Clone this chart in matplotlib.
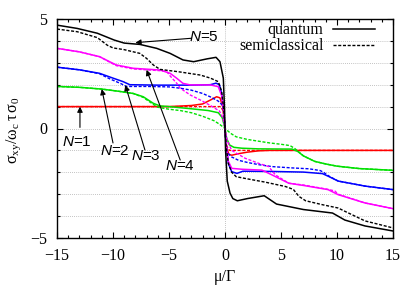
import numpy as np
import matplotlib
matplotlib.use("Agg")
import matplotlib.pyplot as plt
from matplotlib.ticker import MultipleLocator

plt.rcParams['font.family'] = ['Liberation Serif', 'DejaVu Serif']
plt.rcParams['mathtext.fontset'] = 'custom'
plt.rcParams['mathtext.it'] = 'Liberation Sans:italic'
plt.rcParams['mathtext.rm'] = 'Liberation Serif'

# N=1 (red)
mu_q1 = [-15, -5, -3, -2, -1.3, -0.75, -0.45, -0.2, 0, 0.15, 0.35, 0.6, 1.2, 2, 3, 4, 15]
s_q1 = [1.0, 1.0, 1.05, 1.12, 1.3, 1.45, 1.4, 1.0, 0, -0.9, -1.18, -1.22, -1.15, -1.08, -1.02, -1.0, -1.0]
mu_c1 = [-15, -0.4, -0.15, 0, 0.15, 0.4, 15]
s_c1 = [1.0, 1.0, 0.8, 0, -0.8, -1.0, -1.0]

# N=2 (green)
mu_q2 = [-15, -13, -11, -9.5, -8.2, -7.3, -6.4, -5.8, -5, -3, -1.5, -0.6, -0.25, 0,
         0.15, 0.4, 0.8, 1.5, 3, 6, 6.5, 7, 8, 9, 10, 12, 15]
s_q2 = [1.92, 1.88, 1.8, 1.7, 1.6, 1.45, 1.15, 1.03, 1.0, 0.9, 0.82, 0.72, 0.5, 0,
        -0.45, -0.75, -0.86, -0.9, -0.93, -0.94, -1.05, -1.25, -1.5, -1.62, -1.72, -1.83, -1.91]
mu_c2 = [-15, -13, -11, -9.5, -8.2, -7.3, -6.4, -6, -5, -4, -3, -2, -1, -0.5, 0,
         0.5, 1, 2, 3, 4, 5, 5.8, 6.2, 7, 8, 9, 10, 12, 15]
s_c2 = [1.92, 1.88, 1.8, 1.7, 1.6, 1.42, 1.1, 0.97, 0.88, 0.82, 0.72, 0.56, 0.36, 0.2, 0,
        -0.22, -0.38, -0.5, -0.58, -0.66, -0.72, -0.78, -0.9, -1.25, -1.5, -1.62, -1.72, -1.83, -1.91]

# N=3 (blue)
mu_q3 = [-15, -13, -11.2, -10, -9.1, -8.5, -6, -3, -1.3, -0.8, -0.5, -0.3, -0.12, 0,
         0.12, 0.3, 0.6, 1.07, 1.6, 4, 7, 8.7, 9.3, 10.1, 12.5, 15]
s_q3 = [2.8, 2.68, 2.52, 2.3, 2.14, 2.0, 1.98, 1.98, 2.0, 2.07, 2.0, 1.6, 0.8, 0,
        -0.8, -1.6, -1.97, -2.05, -1.95, -1.96, -1.99, -2.06, -2.2, -2.4, -2.63, -2.79]
mu_c3 = [-15, -13, -11.2, -10.3, -9.3, -8.8, -7, -5, -4, -3, -2, -1.2, -0.6, -0.2, -0.05, 0,
         0.05, 0.2, 0.6, 1.2, 2, 3, 4.2, 6, 7.5, 8.5, 8.8, 9.3, 10.1, 12.5, 15]
s_c3 = [2.8, 2.68, 2.5, 2.27, 2.05, 1.92, 1.92, 1.9, 1.84, 1.75, 1.6, 1.42, 1.25, 1.05, 0.5, 0,
        -0.5, -1.1, -1.3, -1.45, -1.55, -1.65, -1.74, -1.8, -1.84, -1.92, -2.0, -2.18, -2.4, -2.63, -2.79]

# N=4 (magenta)
mu_q4 = [-15, -13, -11.2, -10.3, -9.7, -8.2, -5.8, -4.9, -4.3, -3.75, -3.1, -1.3, -0.6, -0.3, -0.1, 0,
         0.1, 0.3, 0.6, 1.5, 3.3, 4.2, 5.7, 7, 9.2, 10.1, 12.5, 15]
s_q4 = [3.66, 3.5, 3.28, 3.05, 2.9, 2.75, 2.67, 2.52, 2.29, 2.06, 1.99, 1.99, 1.91, 1.5, 0.7, 0,
        -0.7, -1.5, -1.82, -1.86, -1.9, -2.12, -2.5, -2.6, -2.79, -3.02, -3.4, -3.66]
mu_c4 = [-15, -13, -11.2, -10.3, -9.7, -8.2, -5.8, -5.2, -4.9, -4.3, -4, -3.1, -2.2, -1.3, -0.5, -0.2, 0,
         0.2, 0.6, 1.8, 3, 3.9, 4.5, 5.7, 7, 9, 9.8, 10.1, 12.5, 15]
s_c4 = [3.66, 3.5, 3.28, 3.03, 2.87, 2.72, 2.64, 2.6, 2.4, 2.06, 1.84, 1.53, 1.3, 1.05, 0.8, 0.5, 0,
        -0.55, -1.0, -1.36, -1.59, -1.74, -2.12, -2.5, -2.58, -2.76, -2.85, -3.0, -3.4, -3.66]

# N=5 (black)
mu_q5 = [-15, -13.2, -11.4, -9.9, -9, -7.6, -6.1, -4.9, -3.75, -2.8, -1.6, -0.8, -0.45, -0.15, -0.05, 0,
         0.05, 0.2, 0.45, 0.7, 1.1, 2, 3.5, 4.6, 7, 9.6, 10.7, 12.5, 15]
s_q5 = [4.72, 4.57, 4.35, 4.04, 3.9, 3.84, 3.66, 3.43, 3.13, 3.05, 3.18, 3.25, 3.05, 2.3, 1.0, 0,
        -1.0, -2.4, -2.95, -3.2, -3.3, -3.2, -3.07, -3.45, -3.7, -3.86, -4.18, -4.45, -4.68]
mu_c5 = [-15, -13.2, -11.4, -10.5, -10, -9, -7.6, -7, -6.4, -5.8, -4, -2.2, -1.3, -0.6, -0.3, -0.1, 0,
         0.1, 0.3, 0.6, 1, 2, 3.6, 5.4, 6.1, 6.6, 7.2, 8.7, 10.1, 10.7, 12.5, 15]
s_c5 = [4.54, 4.42, 4.15, 3.8, 3.68, 3.6, 3.43, 3.2, 2.9, 2.7, 2.58, 2.44, 2.3, 2.14, 1.7, 0.8, 0,
        -0.8, -1.6, -2.0, -2.2, -2.3, -2.45, -2.65, -2.78, -3.1, -3.3, -3.48, -3.63, -3.78, -4.22, -4.54]

colors = ['#ff0000', '#00e000', '#0000ff', '#ff00ff', '#000000']
quantum = [(mu_q1, s_q1), (mu_q2, s_q2), (mu_q3, s_q3), (mu_q4, s_q4), (mu_q5, s_q5)]
semi = [(mu_c1, s_c1), (mu_c2, s_c2), (mu_c3, s_c3), (mu_c4, s_c4), (mu_c5, s_c5)]

fig = plt.figure(figsize=(4.09, 2.86), dpi=100)
ax = fig.add_axes([57/409, 48/286, 336/409, 219/286])

gridstyle = dict(color='#b0b0b0', lw=0.6, ls=(0, (1, 1.5)))
ax.axvline(0, zorder=0, **gridstyle)

for i in range(5):
    ax.plot(semi[i][0], semi[i][1], color=colors[i], lw=1.0, ls=(0, (2.2, 1.2)),
            label='semiclassical' if i == 4 else None)
    ax.plot(quantum[i][0], quantum[i][1], color=colors[i], lw=1.1,
            label='quantum' if i == 4 else None)

ax.set_xlim(-15, 15)
ax.set_ylim(-5, 5)
ax.xaxis.set_major_locator(MultipleLocator(5))
ax.xaxis.set_minor_locator(MultipleLocator(1))
ax.yaxis.set_major_locator(MultipleLocator(5))
ax.yaxis.set_minor_locator(MultipleLocator(1))
ax.yaxis.grid(True, which='both', zorder=0, **gridstyle)
ax.set_axisbelow(True)
ax.tick_params(which='both', direction='in', top=True, right=True, labelsize=11.5, pad=7)
ax.tick_params(which='major', length=4.5, width=0.8)
ax.tick_params(which='minor', length=2.5, width=0.8)
for sp in ax.spines.values():
    sp.set_linewidth(1.0)

ax.set_xlabel('μ/Γ', fontsize=11.5)
ax.xaxis.set_label_coords(0.5, -0.14)
ax.set_ylabel(r'$\mathregular{\sigma_{xy}/\omega_c\,\tau\,\sigma_0}$', fontsize=11.5)
ax.yaxis.set_label_coords(-0.1, 0.49)

# legend, quantum first
h, l = ax.get_legend_handles_labels()
order = [l.index('quantum'), l.index('semiclassical')]
ax.legend([h[k] for k in order], [l[k] for k in order], loc='upper right',
          bbox_to_anchor=(0.945, 0.985), frameon=False, markerfirst=False,
          fontsize=11.5, handlelength=2.6, handletextpad=0.6, labelspacing=0.0,
          borderpad=0, borderaxespad=0)

# N labels with arrows
lab_txt = ['1', '2', '3', '4', '5']
lab_pos = [(-13.2, -0.62), (-9.8, -1.02), (-7.05, -1.27), (-4.0, -1.72), (-1.9, 4.2)]
arr_tail = [(-12.95, 0.05), (-10.0, -0.66), (-7.15, -0.98), (-4.0, -1.44), (-3.0, 4.12)]
arr_head = [(-12.95, 1.0), (-11.0, 1.8), (-8.9, 1.98), (-7.0, 2.68), (-8.0, 3.92)]
for t, p, a, b in zip(lab_txt, lab_pos, arr_tail, arr_head):
    ax.text(p[0], p[1], r'$N$=' + t, family='Liberation Sans', fontsize=11,
            ha='center', va='center')
    ax.annotate('', xy=b, xytext=a,
                arrowprops=dict(arrowstyle='-|>', color='black', lw=0.8,
                                mutation_scale=8, shrinkA=0, shrinkB=0))

fig.savefig('out.png', dpi=100)
